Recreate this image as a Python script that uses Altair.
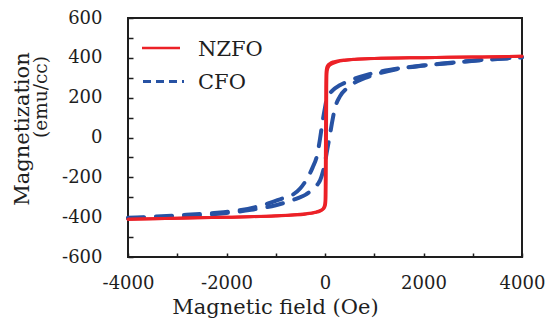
import altair as alt
import pandas as pd

# Hysteresis loops: applied field (Oe) vs magnetization (emu/cc)
# NZFO, field-decreasing branch
nzfo_down_field = [-4000, -3000, -2000, -1000, -700, -400, -200, -100, -40, -15, 0, 5, 10,
                   15, 22, 35, 60, 100, 160, 250, 400, 600, 1000, 2000, 3000, 4000]
nzfo_down_mag = [-410, -405, -400, -393, -389, -383, -375, -367, -357, -345, -320, -250, 0,
                 250, 330, 352, 364, 372, 379, 384, 389, 393, 397, 401, 404, 408]
# NZFO, field-increasing branch
nzfo_up_field = [-4000, -3000, -2000, -1000, -700, -400, -200, -100, -50, -10, 10, 20, 25,
                 30, 35, 40, 55, 80, 150, 250, 400, 600, 1000, 2000, 3000, 4000]
nzfo_up_mag = [-410, -405, -400, -394, -390, -385, -377, -370, -362, -352, -338, -300, -200,
               0, 250, 320, 345, 358, 370, 380, 387, 392, 397, 401, 404, 408]

# CFO, field-decreasing branch
cfo_down_field = [-4000, -3500, -3000, -2300, -1800, -1250, -800, -670, -500, -345, -250,
                  -160, -100, -60, 0, 40, 150, 300, 450, 600, 900, 1500, 2000, 2600, 3100,
                  3700, 4000]
cfo_down_mag = [-403, -398, -391, -380, -368, -339, -300, -289, -255, -198, -150, -88, -5,
                63, 150, 198, 235, 262, 280, 295, 318, 347, 362, 376, 388, 398, 403]
# CFO, field-increasing branch
cfo_up_field = [-4000, -3000, -2000, -1500, -1000, -700, -550, -400, -265, -150, -100, -40,
                0, 50, 100, 150, 200, 300, 450, 600, 800, 1000, 1500, 2000, 2600, 3100, 3700,
                4000]
cfo_up_mag = [-406, -396, -379, -363, -340, -318, -304, -288, -264, -235, -215, -170, -125,
              -55, 13, 85, 145, 205, 248, 275, 298, 315, 345, 361, 375, 387, 397, 402]

samples = ["NZFO", "CFO"]
colors = ["#ec2127", "#2752a3"]
y_title_lines = ["Magnetization", "(emu/cc)"]
x_ticks = list(range(-4000, 4001, 1000))
y_ticks = list(range(-600, 601, 100))

FONT = "DejaVu Serif"
INK = "#1e1e1e"

rows = []
for name, branch, hs, ms in [
    ("NZFO", "down", nzfo_down_field, nzfo_down_mag),
    ("NZFO", "up", nzfo_up_field, nzfo_up_mag),
    ("CFO", "down", cfo_down_field, cfo_down_mag),
    ("CFO", "up", cfo_up_field, cfo_up_mag),
]:
    for h, m in zip(hs, ms):
        rows.append({"field": h, "mag": m, "sample": name, "branch": f"{name}-{branch}"})
loops = pd.DataFrame(rows)

x_enc = alt.X(
    "field:Q",
    scale=alt.Scale(domain=[-4000, 4000], nice=False),
    axis=alt.Axis(
        values=x_ticks,
        labelExpr="datum.value % 2000 == 0 ? '' + datum.value : ''",
        offset=-4, tickSize=4, tickWidth=1.5, tickColor=INK,
        domain=False, grid=False, labelOverlap=False, labelFlush=False,
        labelPadding=17, labelFont=FONT, labelFontSize=18, labelColor=INK,
        title="Magnetic field (Oe)", titleFont=FONT, titleFontSize=21,
        titleFontWeight="normal", titleColor=INK,
        titleX=147, titleY=60, titleBaseline="alphabetic", titleAlign="center",
    ),
)
y_enc = alt.Y(
    "mag:Q",
    scale=alt.Scale(domain=[-600, 600], nice=False),
    axis=alt.Axis(
        values=y_ticks,
        labelExpr="datum.value % 200 == 0 ? '' + datum.value : ''",
        offset=-5, tickSize=5, tickWidth=1.5, tickColor=INK,
        domain=False, grid=False, labelOverlap=False,
        labelPadding=26, labelFont=FONT, labelFontSize=18, labelColor=INK,
        title="",
    ),
)
color_scale = alt.Scale(domain=samples, range=colors)

base = alt.Chart(loops)

nzfo = base.transform_filter(alt.datum.sample == "NZFO").mark_line(
    strokeWidth=3, strokeCap="round", interpolate="monotone"
).encode(
    x=x_enc, y=y_enc,
    color=alt.Color("sample:N", scale=color_scale, legend=None),
    detail="branch:N",
)

cfo = base.transform_filter(alt.datum.sample == "CFO").mark_line(
    strokeWidth=4, strokeCap="round", strokeDash=[16, 12], interpolate="monotone"
).encode(
    x=x_enc, y=y_enc,
    color=alt.Color("sample:N", scale=color_scale, legend=None),
    detail="branch:N",
)

# Legend drawn inside the upper-left corner of the frame
legend_data = alt.Data(values=[{"sample": s} for s in samples])
leg = alt.Chart(legend_data)
leg_nzfo_line = leg.transform_filter(alt.datum.sample == "NZFO").mark_rule(
    strokeWidth=2.5
).encode(
    x=alt.value(14), x2=alt.value(52), y=alt.value(30),
    color=alt.Color("sample:N", scale=color_scale, legend=None),
)
leg_cfo_line = leg.transform_filter(alt.datum.sample == "CFO").mark_rule(
    strokeWidth=3, strokeDash=[8, 5]
).encode(
    x=alt.value(15), x2=alt.value(56), y=alt.value(63.5),
    color=alt.Color("sample:N", scale=color_scale, legend=None),
)
leg_nzfo_text = leg.transform_filter(alt.datum.sample == "NZFO").mark_text(
    font=FONT, fontSize=21, color=INK, align="left", baseline="alphabetic"
).encode(x=alt.value(70), y=alt.value(37.5), text="sample:N")
leg_cfo_text = leg.transform_filter(alt.datum.sample == "CFO").mark_text(
    font=FONT, fontSize=21, color=INK, align="left", baseline="alphabetic"
).encode(x=alt.value(70), y=alt.value(71), text="sample:N")

# Two-line y-axis title
ytitle = alt.Chart(alt.Data(values=[{"line": t} for t in y_title_lines]))
ytitle_main = ytitle.transform_filter(alt.datum.line == y_title_lines[0]).mark_text(
    font=FONT, fontSize=21, color=INK, angle=270, align="center", baseline="middle"
).encode(x=alt.value(-105), y=alt.value(111), text="line:N")
ytitle_unit = ytitle.transform_filter(alt.datum.line == y_title_lines[1]).mark_text(
    font=FONT, fontSize=18.5, color=INK, angle=270, align="center", baseline="middle"
).encode(x=alt.value(-87), y=alt.value(79), text="line:N")

chart = alt.layer(
    cfo, nzfo,
    leg_nzfo_line, leg_cfo_line, leg_nzfo_text, leg_cfo_text,
    ytitle_main, ytitle_unit,
).properties(
    width=394, height=239,
    autosize=alt.AutoSizeParams(type="none"),
    padding={"left": 128, "top": 18, "right": 31, "bottom": 63},
    background="white",
).configure_view(stroke=INK, strokeWidth=2)

chart.save("out.html", embed_options={"renderer": "svg", "actions": False})
